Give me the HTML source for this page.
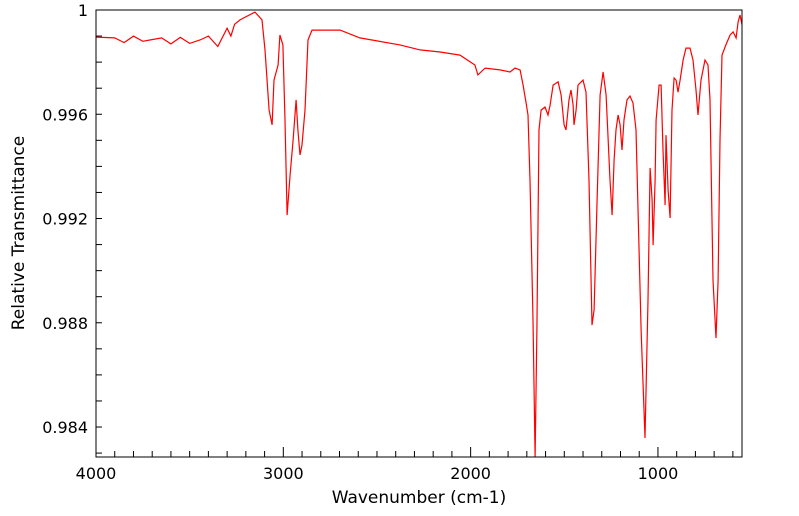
<!DOCTYPE html>
<html><head><meta charset="utf-8"><style>
body{margin:0;background:#fff;}
svg{display:block;font-family:"DejaVu Sans","Liberation Sans",sans-serif;}
</style></head><body>
<svg id="chart" width="799" height="516">
<defs><clipPath id="clip"><rect x="96" y="10" width="646" height="447"/></clipPath></defs>
<g id="ticks"></g>
<g id="labels"></g>
<path id="line" fill="none" stroke="#ff0000" stroke-width="1.2" clip-path="url(#clip)"/>
<rect x="96" y="10" width="646" height="447" fill="none" stroke="#000" stroke-width="1"/>
<text x="419" y="503" font-size="17" text-anchor="middle">Wavenumber (cm-1)</text>
<text transform="translate(24,233) rotate(-90)" font-size="17" text-anchor="middle">Relative Transmittance</text>
</svg>
<script>
const wavenumbers=[4000,3900,3850,3800,3750,3712,3650,3600,3550,3500,3445,3400,3350,3300,3280,3260,3231,3151,3114,3098,3076,3060,3050,3028,3018,3002,2991,2980,2964,2948,2932,2922,2911,2900,2884,2868,2847,2697,2591,2377,2270,2163,2057,1977,1961,1923,1843,1790,1763,1736,1720,1704,1694,1683,1667,1656,1646,1635,1624,1603,1587,1576,1560,1533,1517,1501,1491,1475,1464,1453,1448,1437,1427,1400,1384,1368,1352,1341,1325,1309,1293,1277,1256,1245,1234,1224,1213,1202,1192,1181,1165,1149,1133,1117,1090,1069,1053,1042,1031,1026,1015,1010,994,983,973,962,957,946,935,925,914,903,893,882,866,850,829,813,797,786,770,749,733,722,706,690,679,669,658,637,615,599,583,572,562,551];
const transmittance=[0.99896,0.99893,0.99875,0.99900,0.99880,0.99885,0.99893,0.99870,0.99895,0.99872,0.99885,0.99900,0.99860,0.99930,0.99900,0.99945,0.99962,0.99992,0.99962,0.99847,0.99616,0.99559,0.99731,0.99789,0.99904,0.99866,0.99578,0.99213,0.99367,0.99501,0.99655,0.9954,0.99444,0.99482,0.99616,0.99885,0.99923,0.99923,0.99893,0.99866,0.99847,0.99839,0.99827,0.99789,0.99751,0.99777,0.9977,0.99762,0.99777,0.9977,0.99712,0.99643,0.99597,0.99348,0.98811,0.98285,0.98773,0.9954,0.99616,0.99628,0.99597,0.99635,0.99712,0.99724,0.99674,0.99559,0.9954,0.99655,0.99693,0.99635,0.99559,0.99616,0.99712,0.99731,0.99685,0.99348,0.98791,0.98849,0.99271,0.99674,0.99762,0.99674,0.99348,0.99213,0.99424,0.9954,0.99597,0.99559,0.99463,0.99578,0.99655,0.9967,0.99643,0.9954,0.98773,0.98358,0.98887,0.99394,0.99271,0.99098,0.99348,0.99578,0.99712,0.99712,0.99463,0.99252,0.9952,0.99309,0.99202,0.99616,0.99739,0.99731,0.99685,0.99731,0.99808,0.99854,0.99854,0.99808,0.99693,0.99597,0.99731,0.99808,0.99789,0.99655,0.98964,0.98741,0.98964,0.99501,0.99827,0.99866,0.99904,0.99916,0.99893,0.99954,0.99981,0.99942];
const xTickLabels=[4000,3000,2000,1000];
const yTickLabels=[1,0.996,0.992,0.988,0.984];
const X0=96,X1=742,Y0=10,Y1=457;
const XMAX=4000,XMIN=551.3,YMAX=1,YMIN=0.98285;
function xs(v){return X0+(XMAX-v)/(XMAX-XMIN)*(X1-X0);}
function ys(v){return Y0+(YMAX-v)/(YMAX-YMIN)*(Y1-Y0);}
const NS='http://www.w3.org/2000/svg';
let d='';
for(let i=0;i<wavenumbers.length;i++){d+=(i?'L':'M')+xs(wavenumbers[i]).toFixed(1)+','+ys(transmittance[i]).toFixed(1);}
document.getElementById('line').setAttribute('d',d);
const tg=document.getElementById('ticks'),lg=document.getElementById('labels');
function ln(x1,y1,x2,y2){const l=document.createElementNS(NS,'line');
l.setAttribute('x1',x1);l.setAttribute('y1',y1);l.setAttribute('x2',x2);l.setAttribute('y2',y2);
l.setAttribute('stroke','#000');l.setAttribute('stroke-width','1');


tg.appendChild(l);}
for(let w=4000;w>=XMIN;w-=100){const x=xs(w);const major=w%1000===0;ln(x,Y1,x,Y1-(major?10:6));}
for(let k=0;k<=17;k++){const v=1-k*0.001;if(v<YMIN)break;const y=ys(v);ln(X0,y,X0+6,y);}
xTickLabels.forEach(v=>{const t=document.createElementNS(NS,'text');
t.setAttribute('x',xs(v));t.setAttribute('y',479);t.setAttribute('font-size','16');t.setAttribute('text-anchor','middle');


t.textContent=v;lg.appendChild(t);});
yTickLabels.forEach(v=>{const t=document.createElementNS(NS,'text');
t.setAttribute('x',88);t.setAttribute('y',ys(v)+6);t.setAttribute('font-size','16');t.setAttribute('text-anchor','end');


t.textContent=String(v);lg.appendChild(t);});
</script>
</body></html>
